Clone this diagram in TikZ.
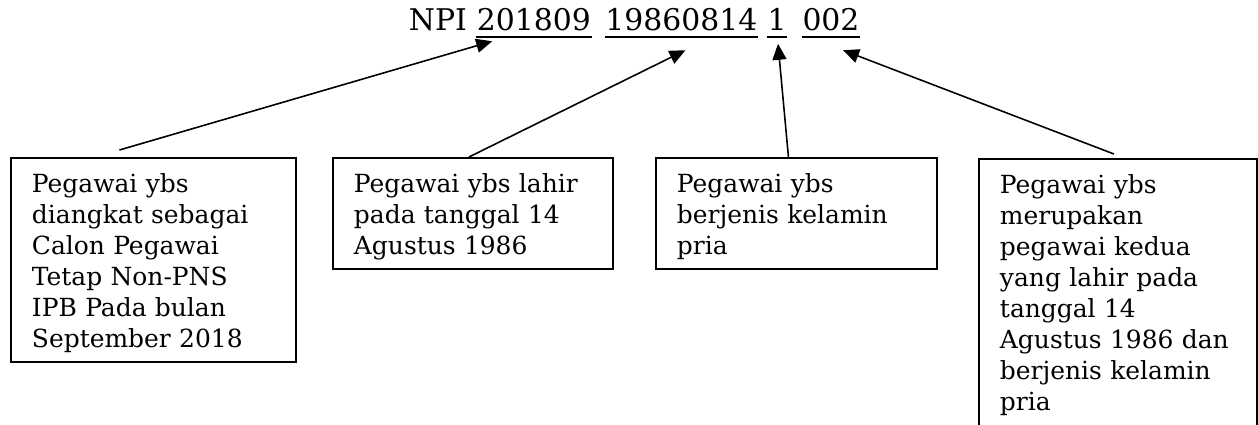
\documentclass[tikz,border=0pt]{standalone}
\usepackage{fontspec}
\setmainfont{DejaVu Serif}
\usetikzlibrary{arrows.meta, calc}

\newcommand\cajatxt{\fontsize{14.2}{17.6}\selectfont}
\newcommand\npitxt{\fontsize{17}{20}\selectfont}
\newcommand\arriba{\rule{0pt}{0.54cm}}
\newcommand\abajo[1][0.12cm]{\rule[-#1]{0pt}{#1}}

\begin{document}
\begin{tikzpicture}[x=0.02cm, y=-0.02cm, >={Triangle[length=0.32cm, width=0.28cm]}, line width=0.9pt,
  caja/.style={draw, line width=1.1pt, anchor=north west, align=left, inner xsep=0.42cm, inner ysep=0.16cm, font=\cajatxt},
  cifra/.style={anchor=base, inner sep=0pt, font=\npitxt}]
  \useasboundingbox (0,0) rectangle (1258,424);
  % numero NPI con sus partes subrayadas
  \node[cifra] (npi) at (438,30) {NPI};
  \node[cifra] (tmt) at (534,30) {201809};
  \node[cifra] (lahir) at (681.5,30) {19860814};
  \node[cifra] (jk) at (777,30) {1};
  \node[cifra] (urut) at (831,30) {002};
  \foreach \n in {tmt, lahir, jk, urut}
    \draw[line width=1.1pt] ($(\n.south west)+(0,6)$) -- ($(\n.south east)+(0,6)$);
  % cajas de explicacion
  \node[caja, text width=4.86cm] (c1) at (10,157) {\arriba Pegawai ybs\\ diangkat sebagai\\ Calon Pegawai\\ Tetap Non-PNS\\ IPB Pada bulan\\ September 2018\abajo};
  \node[caja, text width=4.76cm] (c2) at (332,157) {\arriba Pegawai ybs lahir\\ pada tanggal 14\\ Agustus 1986\abajo};
  \node[caja, text width=4.78cm] (c3) at (655,157) {\arriba Pegawai ybs\\ berjenis kelamin\\ pria\abajo};
  \node[caja, text width=4.72cm] (c4) at (978,158) {\arriba Pegawai ybs\\ merupakan\\ pegawai kedua\\ yang lahir pada\\ tanggal 14\\ Agustus 1986 dan\\ berjenis kelamin\\ pria\abajo[0.3cm]};
  % flechas hacia cada parte
  \draw[->] ($(c1.north)+(-34,-7)$) -- ($(tmt.south west)+(16,10)$);
  \draw[->] ($(c2.north)+(-4,0)$) -- ($(lahir.south)+(4,19)$);
  \draw[->] ($(c3.north)+(-8,0)$) -- ($(jk.south)+(1,13)$);
  \draw[->] ($(c4.north)+(-4,-4)$) -- ($(urut.south)+(12,19)$);
\end{tikzpicture}
\end{document}
